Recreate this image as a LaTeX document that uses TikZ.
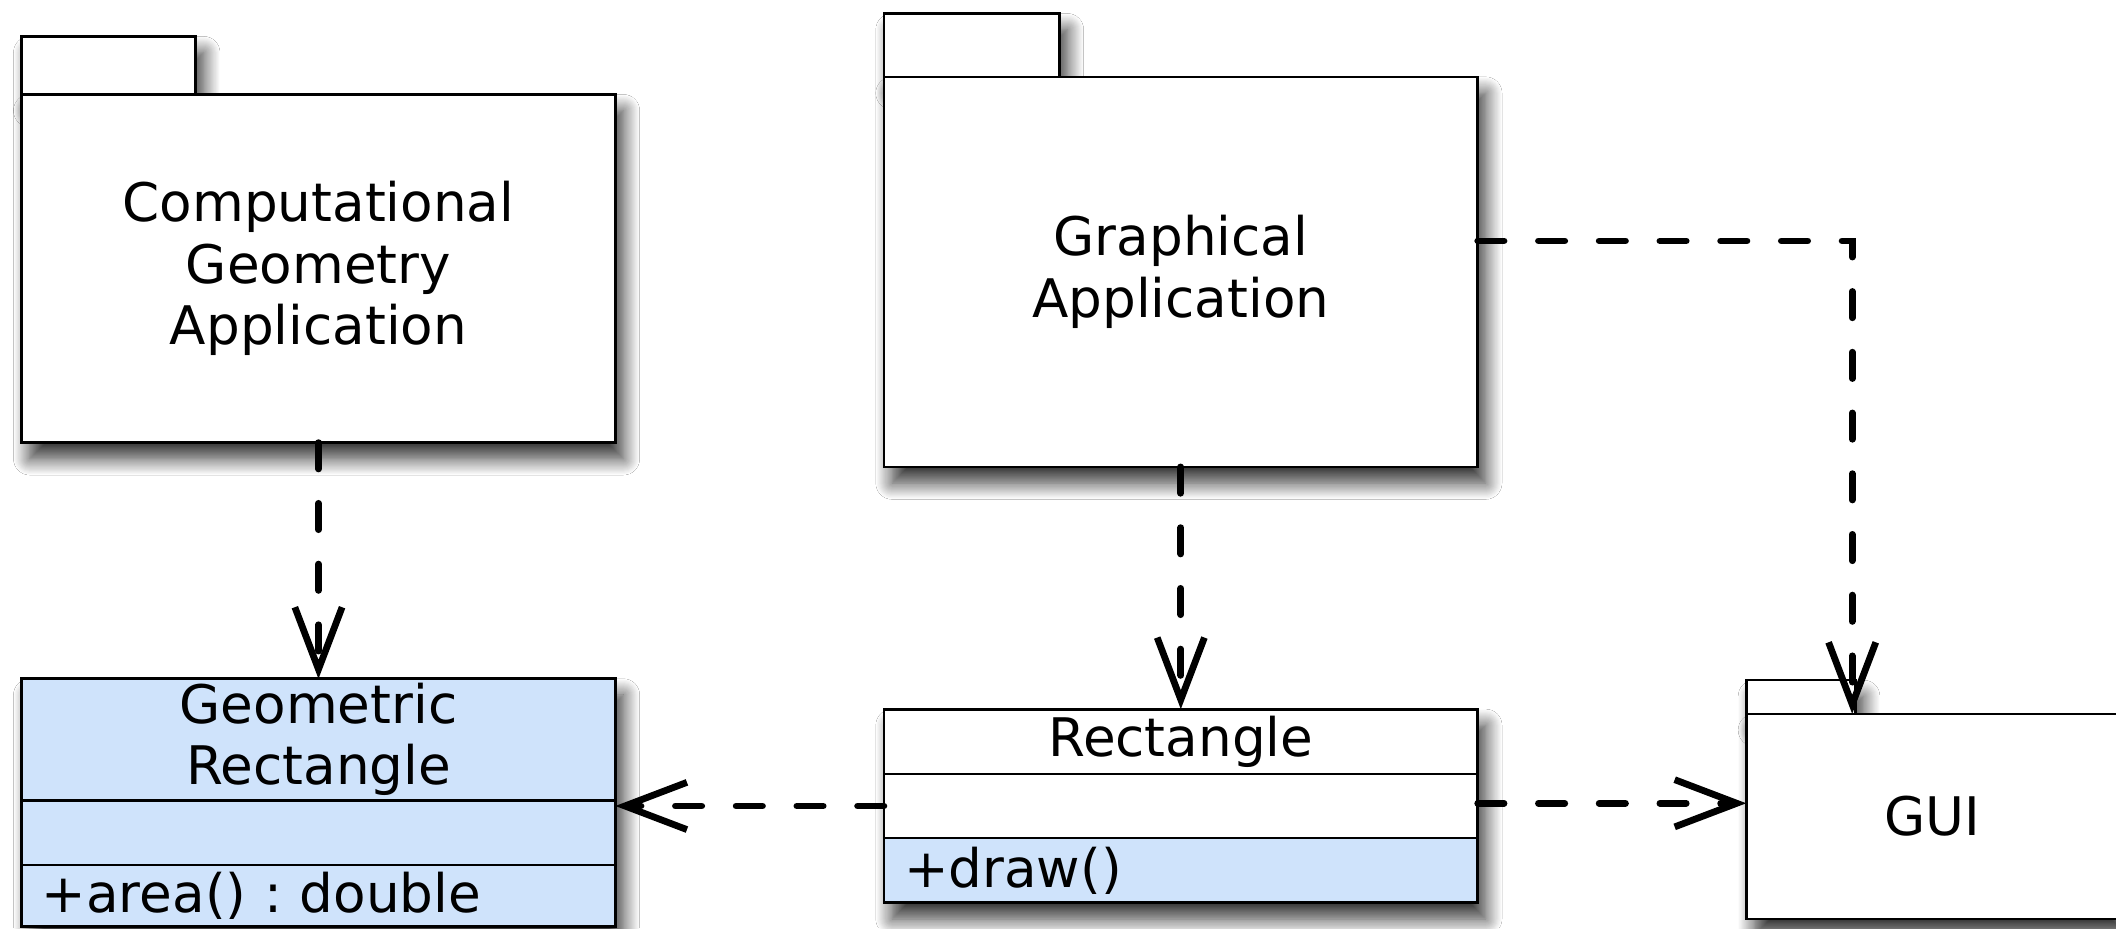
\documentclass[tikz,border=0pt]{standalone}
\usepackage{fontspec}
\setmainfont{DejaVu Sans}
\usetikzlibrary{arrows.meta,shadows.blur}
\definecolor{classblue}{RGB}{207,227,251}
\frenchspacing
\begin{document}
\begin{tikzpicture}[x=0.5pt,y=-0.5pt,
  shade/.style={blur shadow={shadow xshift=3pt,shadow yshift=-6pt,shadow blur radius=6pt,shadow opacity=80,shadow blur steps=16}},
  pkg/.style={draw=black,line width=1pt,fill=white,inner sep=0pt,outer sep=0pt,anchor=north west,
    align=center,font=\fontsize{19.7pt}{22.75pt}\selectfont},
  comp/.style={draw=black,line width=1pt,inner sep=0pt,outer sep=0pt,anchor=north west,
    minimum width=220pt,align=center,font=\fontsize{19.7pt}{22.75pt}\selectfont},
  opcomp/.style={comp,fill=classblue,align=left,inner xsep=7.5pt,text width=205pt},
  dep/.style={line width=2.5pt,dash pattern=on 9.75pt off 12.75pt,line cap=round,
    -{Straight Barb[length=23pt,width=17.5pt]}}]
\path[use as bounding box,fill=white] (0,0) rectangle (1568,688);

% Computational Geometry Application package
\node[pkg,shade,minimum width=64.5pt,minimum height=21.5pt] (cgatab) at (16,27) {};
\node[pkg,shade,minimum width=220pt,minimum height=129pt] (cgabody) at (16,70) {Computational\\Geometry\\Application};

% Graphical Application package
\node[pkg,shade,minimum width=65pt,minimum height=23.5pt] (gatab) at (655,10) {};
\node[pkg,shade,minimum width=220pt,minimum height=144.5pt] (gabody) at (655,57) {Graphical\\Application};

% GUI package
\node[pkg,shade,minimum width=40.5pt,minimum height=12.5pt] (guitab) at (1294,504) {};
\node[pkg,shade,minimum width=138pt,minimum height=76pt] (guibody) at (1294,529) {GUI};

% Geometric Rectangle class
\node[comp,shade,fill=classblue,minimum height=91.75pt] (gr) at (16,503) {};
\node[comp,fill=classblue,minimum height=45pt] (grname) at (16,503) {Geometric\\Rectangle};
\node[comp,fill=classblue,minimum height=24pt] (grattr) at (16,593) {};
\node[opcomp,minimum height=22.75pt] (grops) at (16,641) {+area() : double};

% Rectangle class
\node[comp,shade,fill=white,minimum height=71.75pt] (rect) at (655,525.5) {};
\node[comp,fill=white,minimum height=24pt] (rname) at (655,525.5) {Rectangle};
\node[comp,fill=white,minimum height=23.75pt] (rattr) at (655,573.5) {};
\node[opcomp,minimum height=24pt] (rops) at (655,621) {+draw()};

% dependencies
\coordinate (bend) at (1372.5,178.5);
\draw[dep] (cgabody.south) -- (gr.north);
\draw[dep] (gabody.south) -- (rect.north);
\draw[dep] (gabody.east |- bend) -- (bend) -- (guibody.north -| bend);
\draw[dep] (rect.west) -- (rect.west -| gr.east);
\draw[dep] ([yshift=1pt]rect.east) -- ([yshift=1pt]rect.east -| guibody.west);
\end{tikzpicture}
\end{document}
